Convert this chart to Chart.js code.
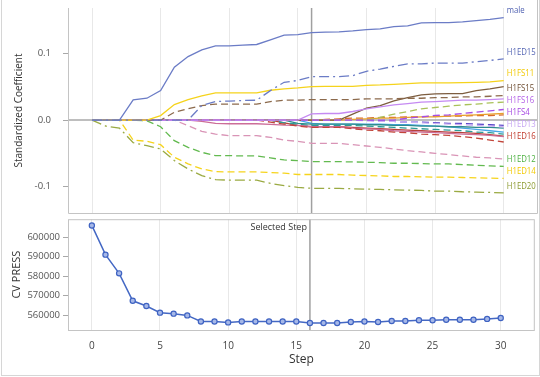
<!DOCTYPE html>
<html>
<head>
<meta charset="utf-8">
<script src="https://cdn.jsdelivr.net/npm/chart.js@4.4.0/dist/chart.umd.min.js"></script>
<style>
body { margin: 0; background: #fff; }
#wrap { position: relative; width: 540px; height: 377px; overflow: hidden; }
#frame { position: absolute; left: 1px; top: -1px; width: 537px; height: 375px; border: 1px solid #d6d6d6; }
#topChart { position: absolute; left: 0; top: 0; }
#bottomChart { position: absolute; left: 0; top: 214px; }
</style>
</head>
<body>
<div id="wrap">
	<div id="frame"></div>
	<canvas id="topChart" width="540" height="214"></canvas>
	<canvas id="bottomChart" width="540" height="163"></canvas>
</div>
<script>
var steps = [0,1,2,3,4,5,6,7,8,9,10,11,12,13,14,15,16,17,18,19,20,21,22,23,24,25,26,27,28,29,30];
var stepTicks = [0,5,10,15,20,25,30];
var coefTicks = [-0.1,0,0.1];
var pressTicks = [560000,570000,580000,590000,600000];
var selectedStep = 16;

// standardized coefficients, one value per step
var male    = [0,0,0,0.0305,0.033,0.0445,0.0797,0.0958,0.106,0.112,0.112,0.113,0.114,0.121,0.128,0.129,0.132,0.1325,0.133,0.1345,0.1365,0.1375,0.141,0.142,0.1466,0.147,0.147,0.148,0.150,0.152,0.1546];
var h1ed15  = [0,0,0,0,0,0,0,0,0.022,0.028,0.0287,0.0296,0.030,0.0445,0.057,0.0598,0.0656,0.0656,0.0656,0.067,0.0736,0.077,0.081,0.0848,0.0848,0.086,0.086,0.086,0.088,0.090,0.0923];
var h1fs11  = [0,0,0,0,0,0.0068,0.0234,0.031,0.0365,0.041,0.041,0.041,0.041,0.045,0.047,0.0485,0.0505,0.051,0.051,0.051,0.0525,0.053,0.054,0.055,0.056,0.056,0.056,0.0565,0.057,0.0575,0.0596];
var h1fs15  = [0,0,0,0,0,0,0.0118,0.017,0.022,0.024,0.024,0.024,0.024,0.028,0.030,0.030,0.031,0.031,0.031,0.031,0.032,0.032,0.032,0.033,0.033,0.034,0.034,0.035,0.035,0.036,0.037];
var h1fs16  = [0,0,0,0,0,0,0,0,0,0,0,0,0,0,0,0,0.0094,0.010,0.010,0.013,0.017,0.020,0.023,0.025,0.027,0.028,0.029,0.030,0.030,0.031,0.032];
var h1fs4   = [0,0,0,0,0,0,0,0,0,0,0,0,0,0,0,0,0,0,0,0,0,0,0,0.003,0.005,0.007,0.008,0.010,0.012,0.014,0.016];
var h1ed13  = [0,0,0,0,0,0,0,0,0,0,0,0,0,0,0,0,0,0,0,0,-0.001,-0.002,-0.002,-0.003,-0.004,-0.005,-0.006,-0.007,-0.008,-0.009,-0.010];
var h1ed16  = [0,0,0,0,0,0,0,0,0,0,0,0,0,-0.003,-0.006,-0.009,-0.011,-0.011,-0.011,-0.013,-0.015,-0.016,-0.018,-0.019,-0.021,-0.022,-0.023,-0.025,-0.027,-0.030,-0.033];
var h1ed12  = [0,0,0,0,-0.001,-0.010,-0.031,-0.041,-0.0486,-0.0535,-0.0535,-0.054,-0.054,-0.057,-0.060,-0.061,-0.0626,-0.0626,-0.0626,-0.063,-0.0635,-0.064,-0.065,-0.065,-0.0655,-0.066,-0.066,-0.067,-0.068,-0.069,-0.0697];
var h1ed14  = [0,0,0,-0.030,-0.032,-0.037,-0.056,-0.066,-0.0736,-0.0777,-0.078,-0.078,-0.078,-0.079,-0.080,-0.082,-0.082,-0.082,-0.082,-0.083,-0.0835,-0.084,-0.085,-0.085,-0.0855,-0.086,-0.086,-0.0865,-0.087,-0.0875,-0.0878];
var h1ed20  = [0,-0.009,-0.012,-0.034,-0.0385,-0.0435,-0.061,-0.0736,-0.0837,-0.0897,-0.0905,-0.0905,-0.0905,-0.0953,-0.0988,-0.1013,-0.1028,-0.103,-0.103,-0.1035,-0.104,-0.1045,-0.105,-0.1055,-0.106,-0.107,-0.107,-0.108,-0.1085,-0.109,-0.1098];
// unlabelled effects
var brownSolid  = [0,0,0,0,0,0,0,0,0,0,0,0,0,0,0,0,0,0,0,0.009,0.018,0.022,0.029,0.034,0.038,0.0395,0.040,0.040,0.0445,0.047,0.0505];
var greenDash   = [0,0,0,0,0,0,0,0,0,0,0,0,0,0,0,0,0,0,0,0,0,0.004,0.009,0.013,0.017,0.019,0.021,0.023,0.024,0.026,0.027];
var orangeSolid = [0,0,0,0,0,0,0,0,0,0,0,0,0,0,0,0,0,0,0,0.001,0.002,0.003,0.003,0.004,0.005,0.005,0.006,0.007,0.008,0.009,0.010];
var orangeDash  = [0,0,0,0,0,0,0,0,0,0,0,0,0,0,0,0,0,0.001,0.002,0.003,0.003,0.004,0.004,0.005,0.005,0.006,0.006,0.006,0.007,0.007,0.008];
var pinkDash    = [0,0,0,0,0,0,0,-0.0083,-0.017,-0.021,-0.0234,-0.0234,-0.0234,-0.026,-0.030,-0.032,-0.035,-0.035,-0.035,-0.037,-0.039,-0.041,-0.0435,-0.046,-0.048,-0.050,-0.052,-0.054,-0.056,-0.057,-0.0586];
var pinkSolid   = [0,0,0,0,0,0,0,0,-0.002,-0.005,-0.0055,-0.0055,-0.0055,-0.0065,-0.0075,-0.008,-0.010,-0.010,-0.010,-0.012,-0.013,-0.014,-0.016,-0.017,-0.018,-0.019,-0.020,-0.021,-0.022,-0.023,-0.025];
var tealDash    = [0,0,0,0,0,0,0,0,0,0,0,0,0,0,-0.004,-0.006,-0.008,-0.008,-0.008,-0.008,-0.009,-0.010,-0.011,-0.012,-0.013,-0.014,-0.015,-0.016,-0.018,-0.019,-0.021];
var tealSolid   = [0,0,0,0,0,0,0,0,0,0,0,0,0,0,0,-0.005,-0.006,-0.006,-0.006,-0.006,-0.007,-0.007,-0.008,-0.008,-0.009,-0.009,-0.010,-0.010,-0.011,-0.011,-0.012];
var blueSolid   = [0,0,0,0,0,0,0,0,0,0,0,0,0,0,0,0,-0.005,-0.006,-0.006,-0.006,-0.006,-0.006,-0.007,-0.007,-0.008,-0.009,-0.010,-0.012,-0.014,-0.016,-0.018];
var indigoDash  = [0,0,0,0,0,0,0,0,0,0,0,0,0,0,0,0,0,0,0,0,0,-0.001,-0.002,-0.003,-0.003,-0.004,-0.005,-0.005,-0.006,-0.007,-0.008];
var redSolid    = [0,0,0,0,0,0,0,0,0,0,0,0,0,0,-0.004,-0.008,-0.010,-0.010,-0.010,-0.011,-0.012,-0.013,-0.014,-0.015,-0.016,-0.017,-0.018,-0.019,-0.020,-0.022,-0.024];

var cvPress = [606000,591000,581400,567300,564600,561200,560700,559800,556700,556700,556200,556700,556700,556700,556700,556700,555900,555900,555900,556400,556700,556400,556900,556900,557300,557300,557600,557600,557600,558000,558500];

var DASH = [7,4];
var DASHDOT = [10,4,2,4];
var SOLID = [];

var effects = [
	{name: "male",   values: male,   color: "#6b7cc6", text: "#4d5fb0", dash: SOLID,   label: true},
	{name: "H1ED15", values: h1ed15, color: "#6b7cc6", text: "#5566b4", dash: DASHDOT, label: true},
	{name: "H1FS11", values: h1fs11, color: "#f5d31c", text: "#f2c900", dash: SOLID,   label: true},
	{name: "H1FS15", values: h1fs15, color: "#8c6a4c", text: "#6b4a2e", dash: DASH,    label: true},
	{name: "H1FS16", values: h1fs16, color: "#c58af2", text: "#b25ee6", dash: SOLID,   label: true},
	{name: "H1FS4",  values: h1fs4,  color: "#a74ee4", text: "#a446e2", dash: DASH,    label: true},
	{name: "H1ED13", values: h1ed13, color: "#cbb0f4", text: "#c6a5f2", dash: DASH,    label: true},
	{name: "H1ED16", values: h1ed16, color: "#c2453a", text: "#c0392b", dash: DASH,    label: true},
	{name: "H1ED12", values: h1ed12, color: "#63ba50", text: "#4cb040", dash: DASH,    label: true},
	{name: "H1ED14", values: h1ed14, color: "#f6d41c", text: "#f2c900", dash: DASH,    label: true},
	{name: "H1ED20", values: h1ed20, color: "#9aaa42", text: "#8c9a30", dash: DASHDOT, label: true},
	{name: "", values: brownSolid,  color: "#7d5d3f", dash: SOLID},
	{name: "", values: greenDash,   color: "#a9c159", dash: DASH},
	{name: "", values: orangeSolid, color: "#e8a02e", dash: SOLID},
	{name: "", values: orangeDash,  color: "#d8692a", dash: DASH},
	{name: "", values: pinkDash,    color: "#d994b6", dash: DASH},
	{name: "", values: pinkSolid,   color: "#cc6d98", dash: SOLID},
	{name: "", values: tealDash,    color: "#2d9c98", dash: DASH},
	{name: "", values: tealSolid,   color: "#2f8c8c", dash: SOLID},
	{name: "", values: blueSolid,   color: "#47a6e6", dash: SOLID},
	{name: "", values: indigoDash,  color: "#5a46c8", dash: DASH},
	{name: "", values: redSolid,    color: "#b8403a", dash: SOLID}
];

function points(vals) {
	return steps.map(function (s, i) { return {x: s, y: vals[i]}; });
}

// keep the axes from reserving room for half tick labels
function noPad(s) {
	s.paddingTop = 0; s.paddingBottom = 0; s.paddingLeft = 0; s.paddingRight = 0;
}

Chart.defaults.font.family = "'Open Sans', 'DejaVu Sans', sans-serif";
Chart.defaults.color = "#555";

var xMin = -1.75, xMax = 32.5;
var frameColor = "#c4c4c4";

var topDecor = {
	id: "topDecor",
	beforeDatasetsDraw: function (chart) {
		var ctx = chart.ctx, a = chart.chartArea;
		var xs = chart.scales.x, ys = chart.scales.y;
		ctx.save();
		ctx.strokeStyle = "#a8a8a8";
		ctx.lineWidth = 1.5;
		var y0 = ys.getPixelForValue(0);
		ctx.beginPath(); ctx.moveTo(a.left, y0); ctx.lineTo(a.right, y0); ctx.stroke();
		var xsel = xs.getPixelForValue(selectedStep);
		ctx.strokeStyle = "#a0a0a0";
		ctx.beginPath(); ctx.moveTo(xsel, a.top); ctx.lineTo(xsel, a.bottom); ctx.stroke();
		ctx.restore();
	},
	afterDraw: function (chart) {
		var ctx = chart.ctx, a = chart.chartArea;
		var xs = chart.scales.x, ys = chart.scales.y;
		// curve labels, pushed apart so they don't overlap
		var placed = effects.filter(function (e) { return e.label; }).map(function (e) {
			return {e: e, y: ys.getPixelForValue(e.values[e.values.length - 1]) - 7};
		});
		placed.sort(function (p, q) { return p.y - q.y; });
		for (var i = 1; i < placed.length; i++) {
			if (placed[i].y < placed[i - 1].y + 12) placed[i].y = placed[i - 1].y + 12;
		}
		var lx = xs.getPixelForValue(steps[steps.length - 1]) + 3;
		ctx.save();
		ctx.beginPath(); ctx.rect(a.left, 0, a.right - a.left, a.bottom); ctx.clip();
		ctx.font = "9.5px 'Open Sans', sans-serif";
		ctx.textAlign = "left";
		ctx.textBaseline = "middle";
		ctx.translate(lx, 0);
		ctx.scale(0.82, 1);
		placed.forEach(function (p) {
			ctx.fillStyle = p.e.text;
			ctx.fillText(p.e.name, 0, p.y);
		});
		ctx.restore();
		// panel frame
		ctx.save();
		ctx.strokeStyle = frameColor;
		ctx.lineWidth = 1;
		ctx.beginPath();
		ctx.moveTo(a.left + 0.5, a.top); ctx.lineTo(a.left + 0.5, a.bottom + 0.5);
		ctx.lineTo(a.right - 0.5, a.bottom + 0.5); ctx.lineTo(a.right - 0.5, 0);
		ctx.stroke();
		ctx.restore();
	}
};

var bottomDecor = {
	id: "bottomDecor",
	beforeDatasetsDraw: function (chart) {
		var ctx = chart.ctx, a = chart.chartArea;
		var xsel = chart.scales.x.getPixelForValue(selectedStep);
		ctx.save();
		ctx.strokeStyle = "#a0a0a0";
		ctx.lineWidth = 1.5;
		ctx.beginPath(); ctx.moveTo(xsel, a.top); ctx.lineTo(xsel, a.bottom); ctx.stroke();
		ctx.font = "9px 'Open Sans', sans-serif";
		ctx.fillStyle = "#333";
		ctx.textAlign = "right";
		ctx.textBaseline = "middle";
		ctx.fillText("Selected Step", xsel - 3, a.top + 8);
		ctx.restore();
	},
	afterDraw: function (chart) {
		var ctx = chart.ctx, a = chart.chartArea;
		ctx.save();
		ctx.strokeStyle = frameColor;
		ctx.lineWidth = 1;
		ctx.strokeRect(a.left + 0.5, a.top + 0.5, a.right - a.left - 1, a.bottom - a.top);
		ctx.restore();
	}
};

new Chart(document.getElementById("topChart"), {
	type: "line",
	data: {
		datasets: effects.map(function (e) {
			return {
				label: e.name,
				data: points(e.values),
				borderColor: e.color,
				borderWidth: 1.3,
				borderDash: e.dash,
				pointRadius: 0,
				fill: false,
				tension: 0
			};
		})
	},
	options: {
		responsive: false,
		animation: false,
		layout: {padding: {top: 8, right: 2, bottom: 1, left: 0}},
		plugins: {legend: {display: false}, tooltip: {enabled: false}},
		scales: {
			x: {
				type: "linear", min: xMin, max: xMax,
				afterBuildTicks: function (s) { s.ticks = stepTicks.map(function (v) { return {value: v}; }); },
				afterFit: function (s) { s.height = 0; noPad(s); },
				ticks: {display: false},
				grid: {color: "#e8e8e8", drawTicks: false},
				border: {display: false}
			},
			y: {
				min: -0.14, max: 0.169,
				afterBuildTicks: function (s) { s.ticks = coefTicks.map(function (v) { return {value: v}; }); },
				afterFit: function (s) { s.width = 68; noPad(s); },
				ticks: {padding: 12, font: {size: 9.5}, color: "#555",
					callback: function (v) { return v.toFixed(1); }},
				grid: {drawOnChartArea: false, drawTicks: true, tickLength: 5, tickColor: "#a8a8a8"},
				border: {display: false},
				title: {display: true, text: "Standardized Coefficient", color: "#333",
					font: {size: 10}, padding: {top: 13, bottom: 0}}
			}
		}
	},
	plugins: [topDecor]
});

new Chart(document.getElementById("bottomChart"), {
	type: "line",
	data: {
		datasets: [{
			label: "CV PRESS",
			data: points(cvPress),
			borderColor: "#4468c4",
			borderWidth: 1.5,
			pointRadius: 2.6,
			pointBorderWidth: 1.2,
			pointBorderColor: "#3f63c2",
			pointBackgroundColor: "#a6b8e8",
			fill: false,
			tension: 0
		}]
	},
	options: {
		responsive: false,
		animation: false,
		layout: {padding: {top: 5, right: 2, bottom: 3, left: 0}},
		plugins: {legend: {display: false}, tooltip: {enabled: false}},
		scales: {
			x: {
				type: "linear", min: xMin, max: xMax,
				afterBuildTicks: function (s) { s.ticks = stepTicks.map(function (v) { return {value: v}; }); },
				afterFit: function (s) { s.height = 44; noPad(s); },
				ticks: {padding: 4, font: {size: 10}, color: "#444"},
				grid: {color: "#e8e8e8", drawTicks: true, tickLength: 6, tickColor: "rgba(0,0,0,0)"},
				border: {display: false},
				title: {display: true, text: "Step", color: "#333", font: {size: 12},
					padding: {top: 0, bottom: 7}}
			},
			y: {
				min: 552300, max: 609200,
				afterBuildTicks: function (s) { s.ticks = pressTicks.map(function (v) { return {value: v}; }); },
				afterFit: function (s) { s.width = 68; noPad(s); },
				ticks: {padding: 3, font: {size: 9.5}, color: "#555",
					callback: function (v) { return String(v); }},
				grid: {drawOnChartArea: false, drawTicks: true, tickLength: 5, tickColor: "#a8a8a8"},
				border: {display: false},
				title: {display: true, text: "CV PRESS", color: "#333",
					font: {size: 11}, padding: {top: 10, bottom: 0}}
			}
		}
	},
	plugins: [bottomDecor]
});
</script>
</body>
</html>
